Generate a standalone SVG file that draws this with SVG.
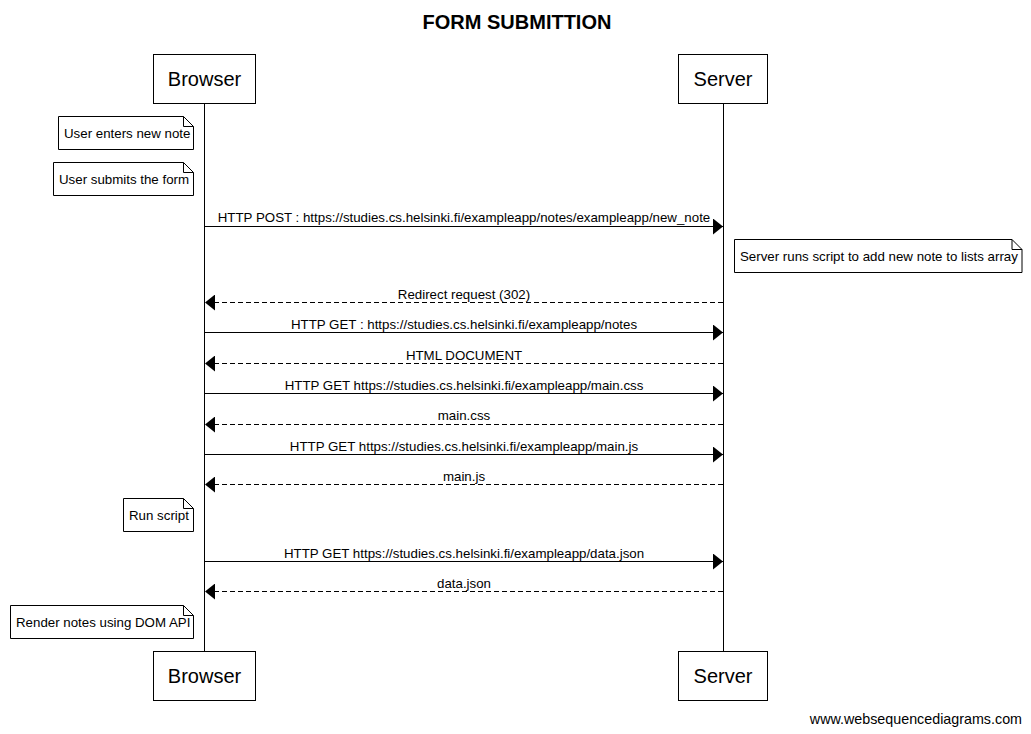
<svg xmlns="http://www.w3.org/2000/svg" width="1031" height="734" viewBox="0 0 1031 734">
  <style>
    text { font-family: "Liberation Sans", Arial, sans-serif; fill: #000; }
    .title { font-size: 20px; font-weight: bold; text-anchor: middle; }
    .actor rect { fill: #fff; stroke: #000; stroke-width: 1; }
    .actor text { font-size: 20px; text-anchor: middle; }
    .note path { fill: #fff; stroke: #000; stroke-width: 1; }
    .note text { font-size: 13.3px; }
    .lifeline { stroke: #000; stroke-width: 1; }
    .msg line { stroke: #000; stroke-width: 1; }
    .msg .ret { stroke-dasharray: 5 3; }
    .msg text { font-size: 13.3px; text-anchor: middle; }
    .foot { font-size: 14.3px; text-anchor: end; }
  </style>
  <defs>
    <marker id="head" viewBox="0 0 10 16" refX="10" refY="8" markerWidth="10" markerHeight="16" markerUnits="userSpaceOnUse" orient="auto">
      <path d="M0,0 L10,8 L0,16 Z" fill="#000"/>
    </marker>
  </defs>

  <text class="title" x="517" y="29">FORM SUBMITTION</text>

  <!-- lifelines -->
  <g id="lifelines">
    <line class="lifeline" x1="204.5" y1="103" x2="204.5" y2="652"/>
    <line class="lifeline" x1="723.5" y1="103" x2="723.5" y2="652"/>
  </g>

  <!-- participants -->
  <g id="browser-top" class="actor">
    <rect x="153.5" y="54.5" width="102" height="49"/>
    <text x="204.5" y="86">Browser</text>
  </g>
  <g id="server-top" class="actor">
    <rect x="678.5" y="54.5" width="89" height="49"/>
    <text x="723" y="86">Server</text>
  </g>
  <g id="browser-bottom" class="actor">
    <rect x="153.5" y="651.5" width="102" height="49"/>
    <text x="204.5" y="683">Browser</text>
  </g>
  <g id="server-bottom" class="actor">
    <rect x="678.5" y="651.5" width="89" height="49"/>
    <text x="723" y="683">Server</text>
  </g>

  <!-- notes -->
  <g id="note-enter" class="note">
    <path d="M58.5,116.5 H183.5 L193.5,126.5 V149.5 H58.5 Z M183.5,116.5 V126.5 H193.5"/>
    <text x="64" y="138">User enters new note</text>
  </g>
  <g id="note-submit" class="note">
    <path d="M53.5,162.5 H183.5 L193.5,172.5 V195.5 H53.5 Z M183.5,162.5 V172.5 H193.5"/>
    <text x="59" y="184">User submits the form</text>
  </g>
  <g id="note-server" class="note">
    <path d="M734.5,239.5 H1012 L1022,249.5 V272.5 H734.5 Z M1012,239.5 V249.5 H1022"/>
    <text x="740" y="261">Server runs script to add new note to lists array</text>
  </g>
  <g id="note-run" class="note">
    <path d="M123.5,498.5 H183.5 L193.5,508.5 V531.5 H123.5 Z M183.5,498.5 V508.5 H193.5"/>
    <text x="129" y="520">Run script</text>
  </g>
  <g id="note-render" class="note">
    <path d="M10.5,605.5 H183.5 L193.5,615.5 V638.5 H10.5 Z M183.5,605.5 V615.5 H193.5"/>
    <text x="16" y="627">Render notes using DOM API</text>
  </g>

  <!-- messages -->
  <g id="connectors" class="msg">
    <line x1="205" y1="226.5" x2="723" y2="226.5" marker-end="url(#head)"/>
    <text x="464" y="222">HTTP POST : https://studies.cs.helsinki.fi/exampleapp/notes/exampleapp/new_note</text>

    <line class="ret" x1="723" y1="302.5" x2="205" y2="302.5" marker-end="url(#head)"/>
    <text x="464" y="299">Redirect request (302)</text>

    <line x1="205" y1="332.5" x2="723" y2="332.5" marker-end="url(#head)"/>
    <text x="464" y="329">HTTP GET : https://studies.cs.helsinki.fi/exampleapp/notes</text>

    <line class="ret" x1="723" y1="363.5" x2="205" y2="363.5" marker-end="url(#head)"/>
    <text x="464" y="360">HTML DOCUMENT</text>

    <line x1="205" y1="393.5" x2="723" y2="393.5" marker-end="url(#head)"/>
    <text x="464" y="390">HTTP GET https://studies.cs.helsinki.fi/exampleapp/main.css</text>

    <line class="ret" x1="723" y1="424.5" x2="205" y2="424.5" marker-end="url(#head)"/>
    <text x="464" y="420">main.css</text>

    <line x1="205" y1="454.5" x2="723" y2="454.5" marker-end="url(#head)"/>
    <text x="464" y="451">HTTP GET https://studies.cs.helsinki.fi/exampleapp/main.js</text>

    <line class="ret" x1="723" y1="484.5" x2="205" y2="484.5" marker-end="url(#head)"/>
    <text x="464" y="481">main.js</text>

    <line x1="205" y1="561.5" x2="723" y2="561.5" marker-end="url(#head)"/>
    <text x="464" y="558">HTTP GET https://studies.cs.helsinki.fi/exampleapp/data.json</text>

    <line class="ret" x1="723" y1="591.5" x2="205" y2="591.5" marker-end="url(#head)"/>
    <text x="464" y="588">data.json</text>
  </g>

  <text class="foot" x="1022" y="724">www.websequencediagrams.com</text>
</svg>
